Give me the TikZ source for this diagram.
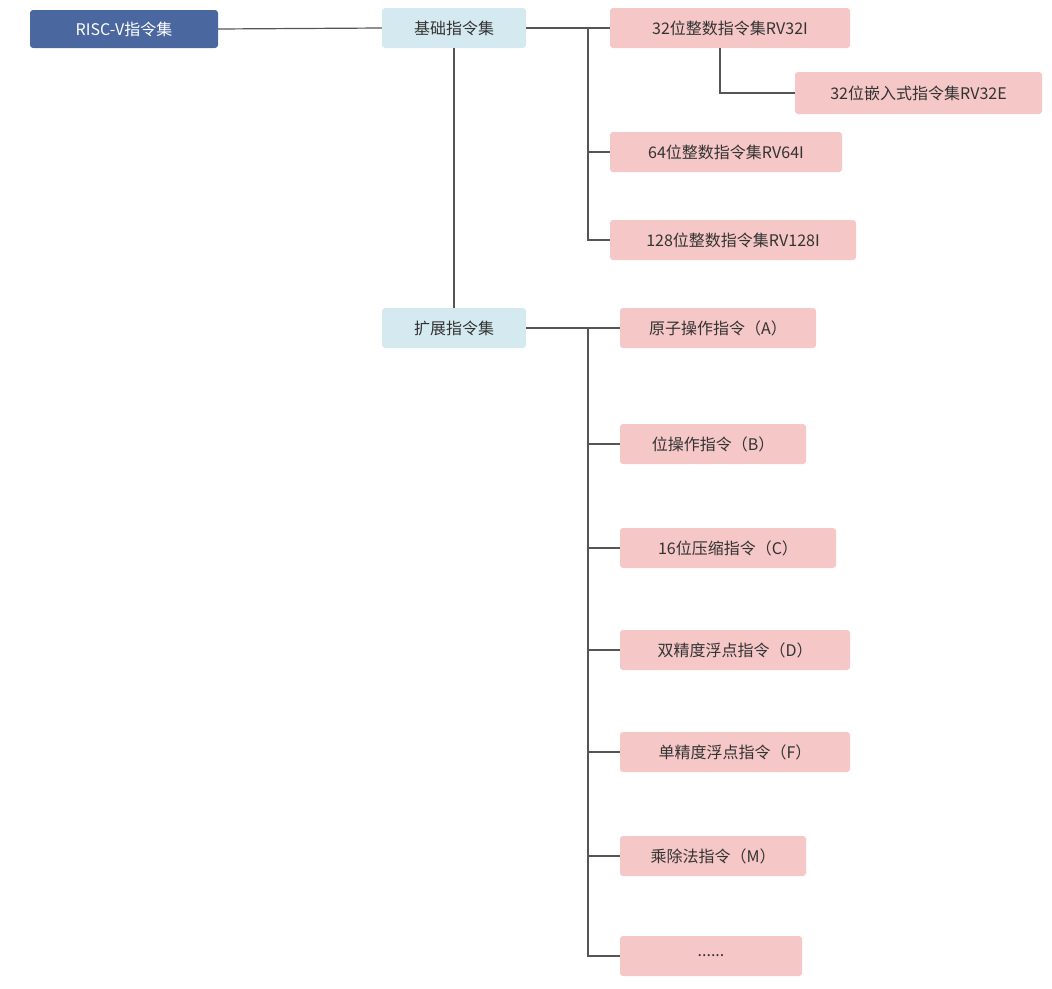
\documentclass[tikz,border=0pt]{standalone}
\usepackage{fontspec}
\setmainfont{Noto Sans CJK SC}
\definecolor{dblue}{HTML}{4A67A0}
\definecolor{lblue}{HTML}{D5EAF0}
\definecolor{lpink}{HTML}{F5C7C7}
\definecolor{ln}{HTML}{555555}
\begin{document}
\begin{tikzpicture}[x=1pt,y=-1pt,
  box/.style={rounded corners=3pt,inner sep=0pt,font=\fontsize{16}{18}\selectfont,text=black!80},
  root/.style={box,fill=dblue,text=white},
  lv1/.style={box,fill=lblue},
  lv2/.style={box,fill=lpink},
  conn/.style={draw=ln,line width=1.2pt}]
\useasboundingbox (0,0) rectangle (1052,988);
\newcommand{\bx}[6]{\node[#1,minimum width=#4-#3,minimum height=#6-#5] (#2) at ({(#3+#4)/2},{(#5+#6)/2}) {};}
\node[root,minimum width=188,minimum height=38] (r) at (124,29) {RISC-V指令集};
\node[lv1,minimum width=144,minimum height=40] (b) at (454,28) {基础指令集};
\node[lv1,minimum width=144,minimum height=40] (e) at (454,328) {扩展指令集};
\node[lv2,minimum width=240,minimum height=40] (i32) at (730,28) {32位整数指令集RV32I};
\node[lv2,minimum width=247,minimum height=42] (e32) at (918.5,93) {32位嵌入式指令集RV32E};
\node[lv2,minimum width=232,minimum height=40] (i64) at (726,152) {64位整数指令集RV64I};
\node[lv2,minimum width=246,minimum height=40] (i128) at (733,240) {128位整数指令集RV128I};
\node[lv2,minimum width=196,minimum height=40] (xa) at (718,328) {原子操作指令（A）};
\node[lv2,minimum width=186,minimum height=40] (xb) at (713,444) {位操作指令（B）};
\node[lv2,minimum width=216,minimum height=40] (xc) at (728,548) {16位压缩指令（C）};
\node[lv2,minimum width=230,minimum height=40] (xd) at (735,650) {双精度浮点指令（D）};
\node[lv2,minimum width=230,minimum height=40] (xf) at (735,752) {单精度浮点指令（F）};
\node[lv2,minimum width=186,minimum height=40] (xm) at (713,856) {乘除法指令（M）};
\node[lv2,minimum width=182,minimum height=40] (xx) at (711,956) {......};
\draw[conn] (r.east) -- (b.west);
\draw[conn] (b.south) -- (e.north);
\coordinate (bj) at (588,28);
\draw[conn] (b.east) -- (i32.west);
\draw[conn] (bj) |- (i128.west);
\draw[conn] (bj |- i64.west) -- (i64.west);
\draw[conn] (i32.south -| 720,0) |- (e32.west);
\coordinate (ej) at (588,328);
\draw[conn] (e.east) -- (xa.west);
\draw[conn] (ej) |- (xx.west);
\foreach \n in {xb,xc,xd,xf,xm} \draw[conn] (ej |- \n.west) -- (\n.west);
\end{tikzpicture}
\end{document}
